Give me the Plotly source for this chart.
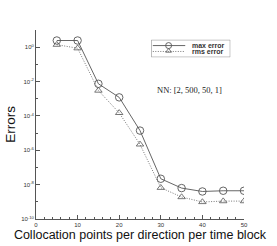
import plotly.graph_objects as go

points = [5, 10, 15, 20, 25, 30, 35, 40, 45, 50]
max_error = [2.45, 2.45, 7.4e-3, 1.2e-3, 1.4e-5, 2.2e-8, 6.3e-9, 4.0e-9, 4.4e-9, 4.4e-9]
rms_error = [1.4, 0.87, 3.0e-3, 1.5e-4, 2.2e-6, 6.6e-9, 1.9e-9, 9.8e-10, 1.1e-9, 1.1e-9]

series_names = ["max error", "rms error"]

x_ticks = [0, 10, 20, 30, 40, 50]
y_tickvals = [1e0, 1e-2, 1e-4, 1e-6, 1e-8, 1e-10]
y_ticktext = ["10<sup>0</sup>", "10<sup>-2</sup>", "10<sup>-4</sup>", "10<sup>-6</sup>",
              "10<sup>-8</sup>", "10<sup>-10</sup>"]
y_minor = [1e1, 1e-1, 1e-3, 1e-5, 1e-7, 1e-9]

line_col = "#555555"

fig = go.Figure()
fig.add_trace(go.Scatter(
    x=points, y=max_error, name=series_names[0], mode="lines+markers",
    line=dict(color=line_col, width=0.9),
    marker=dict(symbol="circle-open", size=7.5, color=line_col, line=dict(width=0.9)),
    showlegend=False,
))
fig.add_trace(go.Scatter(
    x=points, y=rms_error, name=series_names[1], mode="lines+markers",
    line=dict(color=line_col, width=0.8, dash="1px,1.5px"),
    marker=dict(symbol="triangle-up-open", size=6.5, color=line_col, line=dict(width=0.8)),
    showlegend=False,
))

# legend drawn in a small inset axis
fig.add_trace(go.Scatter(
    x=[0.02, 0.43], y=[0.67, 0.67], mode="lines", xaxis="x2", yaxis="y2",
    line=dict(color=line_col, width=0.9), showlegend=False, hoverinfo="skip"))
fig.add_trace(go.Scatter(
    x=[0.22], y=[0.67], mode="markers", xaxis="x2", yaxis="y2",
    marker=dict(symbol="circle-open", size=6, color=line_col, line=dict(width=0.9)),
    showlegend=False, hoverinfo="skip"))
fig.add_trace(go.Scatter(
    x=[0.02, 0.43], y=[0.33, 0.33], mode="lines", xaxis="x2", yaxis="y2",
    line=dict(color=line_col, width=0.8, dash="1px,1.5px"), showlegend=False, hoverinfo="skip"))
fig.add_trace(go.Scatter(
    x=[0.22], y=[0.36], mode="markers", xaxis="x2", yaxis="y2",
    marker=dict(symbol="triangle-up-open", size=5, color=line_col, line=dict(width=0.8)),
    showlegend=False, hoverinfo="skip"))

fig.update_layout(
    width=277, height=246,
    margin=dict(l=36, r=33, t=29.5, b=27.3),
    paper_bgcolor="white", plot_bgcolor="white",
    font=dict(family="Liberation Sans, Arial, sans-serif", color="#222"),
    showlegend=False,
    xaxis=dict(
        range=[0, 50], tickvals=x_ticks, ticks="inside", ticklen=4, tickwidth=0.8,
        tickcolor="#555", showline=True, linecolor="#555", linewidth=0.8, automargin=False,
        showgrid=False, zeroline=False, tickfont=dict(size=6, color="#333"),
        minor=dict(dtick=2, ticks="inside", ticklen=2, tickcolor="#555", showgrid=False),
        title=dict(text="Collocation points per direction per time block",
                   font=dict(size=12.5, color="#111"), standoff=0),
    ),
    yaxis=dict(
        type="log", range=[-10, 1], tickvals=y_tickvals, ticktext=y_ticktext,
        ticks="inside", ticklen=4, tickwidth=0.8, tickcolor="#555", automargin=False,
        showline=True, linecolor="#555", linewidth=0.8,
        showgrid=False, zeroline=False, tickfont=dict(size=6, color="#333"),
        minor=dict(tickvals=y_minor, ticks="inside", ticklen=2, tickcolor="#555", showgrid=False),
        title=dict(text="Errors", font=dict(size=13.5, color="#111"), standoff=2),
    ),
    xaxis2=dict(domain=[0.554, 0.934], range=[0, 1], anchor="y2", visible=False, fixedrange=True),
    yaxis2=dict(domain=[0.856, 0.948], range=[0, 1], anchor="x2", visible=False, fixedrange=True),
    shapes=[dict(type="rect", xref="x2", yref="y2", x0=0, x1=1, y0=0, y1=1,
                 line=dict(color="#888", width=1), fillcolor="rgba(0,0,0,0)")],
    annotations=[
        dict(text="<b>" + series_names[0] + "</b>", x=0.49, y=0.67, xref="x2", yref="y2",
             xanchor="left", yanchor="middle", showarrow=False,
             font=dict(size=7, color="#333")),
        dict(text="<b>" + series_names[1] + "</b>", x=0.49, y=0.33, xref="x2", yref="y2",
             xanchor="left", yanchor="middle", showarrow=False,
             font=dict(size=7, color="#333")),
        dict(text="NN: [2, 500, 50, 1]", x=0.736, y=0.68, xref="paper", yref="paper",
             xanchor="center", yanchor="middle", showarrow=False,
             font=dict(family="Liberation Serif, Times New Roman, serif", size=8.5, color="#222")),
    ],
)

fig.write_html("out.html", config={"displayModeBar": False},
               post_script="document.body.style.margin='0px';document.body.style.padding='0px';")
